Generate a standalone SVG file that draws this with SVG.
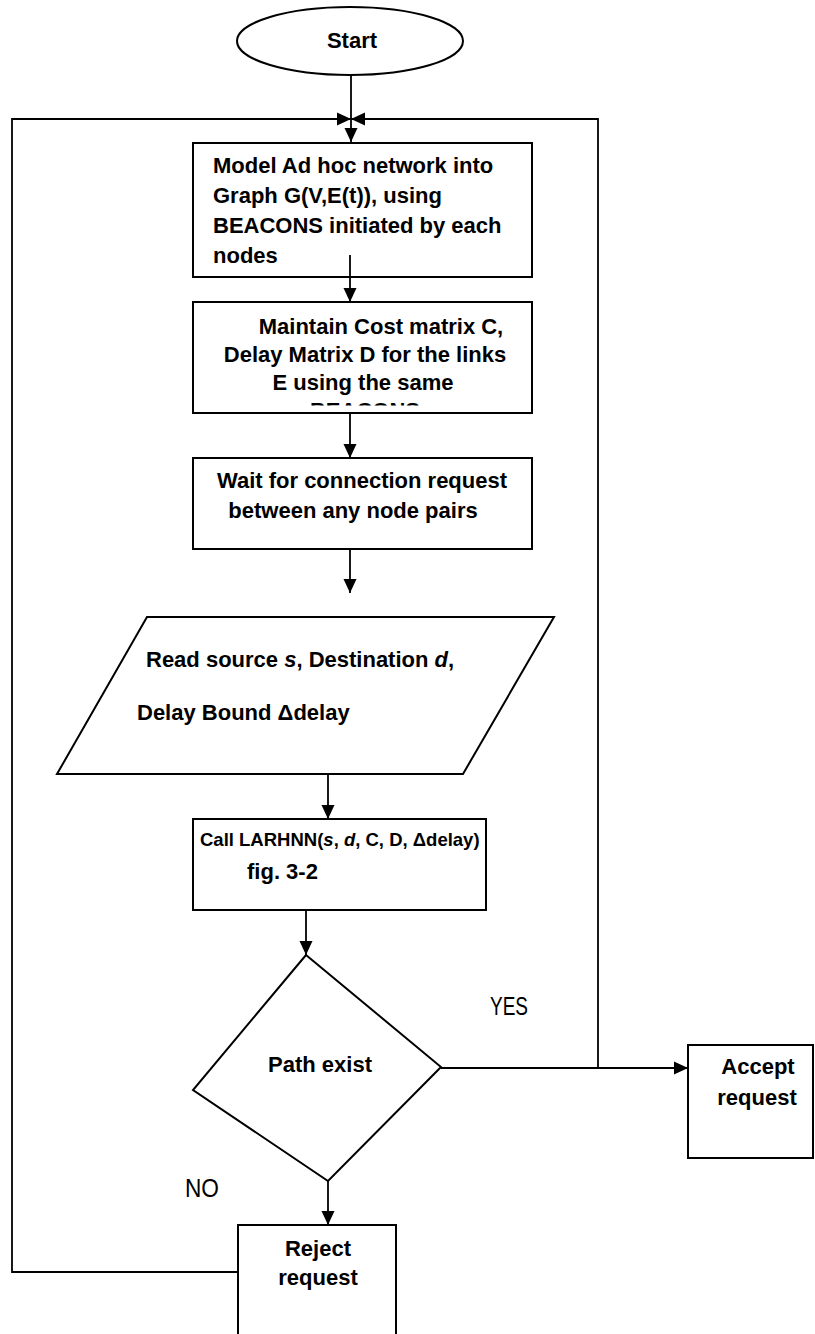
<svg xmlns="http://www.w3.org/2000/svg" width="815" height="1334" viewBox="0 0 815 1334">
<defs>
<style>
.shape{fill:#fff;stroke:#000;stroke-width:2}
.conn{fill:none;stroke:#000;stroke-width:1.8}
.t{font-family:"Liberation Sans",Arial,sans-serif;font-weight:bold;font-size:22px;fill:#000}
.c{text-anchor:middle}
.lbl{font-family:"Liberation Sans Narrow","Liberation Sans",Arial,sans-serif;font-size:25px;fill:#000}
</style>
<marker id="ah" markerUnits="userSpaceOnUse" markerWidth="14" markerHeight="14" viewBox="0 0 14 14" refX="14" refY="7" orient="auto">
<path d="M0,0.5 L14,7 L0,13.5 z" fill="#000"/>
</marker>
<clipPath id="clipB2"><rect x="193" y="302" width="339" height="103.5"/></clipPath>
</defs>
<rect width="815" height="1334" fill="#fff"/>

<g id="start">
<ellipse class="shape" cx="350" cy="41" rx="113" ry="34"/>
<text class="t c" x="352" y="48">Start</text>
</g>

<g id="model">
<rect class="shape" x="193" y="143" width="339" height="134"/>
<text class="t" x="213" y="173">Model Ad hoc network into</text>
<text class="t" x="213" y="203">Graph G(V,E(t)), using</text>
<text class="t" x="213" y="233">BEACONS initiated by each</text>
<text class="t" x="213" y="263">nodes</text>
</g>

<g id="maintain">
<rect class="shape" x="193" y="302" width="339" height="111"/>
<g clip-path="url(#clipB2)">
<text class="t c" x="381" y="334">Maintain Cost matrix C,</text>
<text class="t c" x="365" y="362">Delay Matrix D for the links</text>
<text class="t c" x="363" y="390">E using the same</text>
<text class="t c" x="365" y="418">BEACONS</text>
</g>
</g>

<g id="wait">
<rect class="shape" x="193" y="458" width="339" height="91"/>
<text class="t c" x="362" y="488">Wait for connection request</text>
<text class="t c" x="353" y="518">between any node pairs</text>
</g>

<g id="read">
<polygon class="shape" points="147,617 554,617 463,774 57,774"/>
<text class="t" x="146" y="667">Read source <tspan font-style="italic">s</tspan>, Destination <tspan font-style="italic">d</tspan>,</text>
<text class="t" x="137" y="720">Delay Bound Δdelay</text>
</g>

<g id="call">
<rect class="shape" x="193" y="819" width="293" height="91"/>
<text class="t" x="200" y="846" style="font-size:18.5px">Call LARHNN(<tspan font-style="italic">s</tspan>, <tspan font-style="italic">d</tspan>, C, D, Δdelay)</text>
<text class="t" x="247" y="879">fig. 3-2</text>
</g>

<g id="decision">
<polygon class="shape" points="306,955 441,1067 328,1181 193,1090"/>
<text class="t c" x="320" y="1072">Path exist</text>
</g>

<g id="accept">
<rect class="shape" x="688" y="1045" width="125" height="113"/>
<text class="t c" x="758" y="1074">Accept</text>
<text class="t c" x="757" y="1105">request</text>
</g>

<g id="reject">
<rect class="shape" x="238" y="1225" width="158" height="120"/>
<text class="t c" x="318" y="1256">Reject</text>
<text class="t c" x="318" y="1285">request</text>
</g>

<g id="connectors">
<path class="conn" d="M351,75 V142" marker-end="url(#ah)"/>
<path class="conn" d="M238,1272 H12 V119 H351" marker-end="url(#ah)"/>
<path class="conn" d="M598,1068 V119 H351" marker-end="url(#ah)"/>
<path class="conn" d="M350,255 V302" marker-end="url(#ah)"/>
<path class="conn" d="M350,413 V458" marker-end="url(#ah)"/>
<path class="conn" d="M350,549 V593" marker-end="url(#ah)"/>
<path class="conn" d="M328,774 V819" marker-end="url(#ah)"/>
<path class="conn" d="M306,910 V955" marker-end="url(#ah)"/>
<path class="conn" d="M441,1068 H688" marker-end="url(#ah)"/>
<path class="conn" d="M328,1181 V1225" marker-end="url(#ah)"/>
<text class="lbl" x="490" y="1015" textLength="38" lengthAdjust="spacingAndGlyphs">YES</text>
<text class="lbl" x="185" y="1197" textLength="34" lengthAdjust="spacingAndGlyphs">NO</text>
</g>
</svg>
